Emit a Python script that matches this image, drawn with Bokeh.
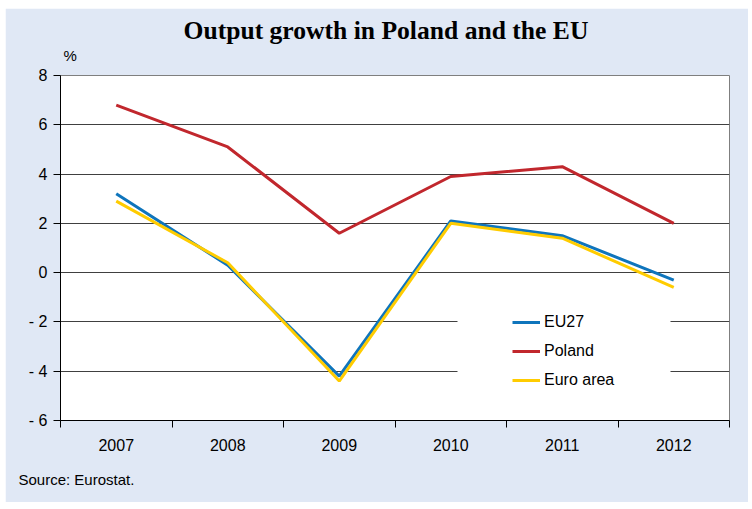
from bokeh.plotting import figure
from bokeh.models import (FixedTicker, Legend, LegendItem, BoxAnnotation,
                          ColumnDataSource, Title)
from bokeh.embed import file_html
from bokeh.resources import INLINE

years = ["2007", "2008", "2009", "2010", "2011", "2012"]
eu27 = [3.2, 0.3, -4.2, 2.1, 1.5, -0.3]
poland = [6.8, 5.1, 1.6, 3.9, 4.3, 2.0]
euro_area = [2.9, 0.4, -4.4, 2.0, 1.4, -0.6]
y_ticks = [-6, -4, -2, 0, 2, 4, 6, 8]

FONT = "Liberation Sans"
BG = "#E0E8F5"

W, H = 743, 494
p = figure(width=W, height=H, output_backend="svg", toolbar_location=None,
           x_range=(0, len(years)), y_range=(-6, 8),
           min_border_left=55, min_border_right=19, min_border_top=67,
           min_border_bottom=81)
p.margin = (8, 4, 7, 5)
p.background_fill_color = "white"
p.border_fill_color = BG
p.outline_line_color = "#7F7F7F"
p.outline_line_width = 1

xs = [i + 0.5 for i in range(len(years))]
src = ColumnDataSource(dict(x=xs, eu27=eu27, poland=poland, euro=euro_area))

# white box behind legend (interrupts gridlines)
p.add_layout(BoxAnnotation(left=397, right=610, bottom=25, top=112,
                           left_units="screen", right_units="screen",
                           bottom_units="screen", top_units="screen",
                           fill_color="white", fill_alpha=1, line_color=None,
                           level="underlay"))

r_eu = p.line("x", "eu27", source=src, line_color="#0F75BC", line_width=3)
r_pl = p.line("x", "poland", source=src, line_color="#C1272D", line_width=3)
r_ea = p.line("x", "euro", source=src, line_color="#FFCC00", line_width=3)

# x axis
p.xaxis.ticker = FixedTicker(ticks=xs, minor_ticks=list(range(len(years) + 1)))
p.xaxis.major_label_overrides = {x: y for x, y in zip(xs, years)}
p.xaxis.major_tick_line_color = None
p.xaxis.minor_tick_line_color = "black"
p.xaxis.minor_tick_out = 7
p.xaxis.minor_tick_in = 0
p.xaxis.axis_line_color = "black"
p.xaxis.major_label_text_font = FONT
p.xaxis.major_label_text_font_size = "16px"
p.xaxis.major_label_text_color = "black"
p.xaxis.major_label_standoff = 11

# y axis
p.yaxis.ticker = FixedTicker(ticks=y_ticks)
p.yaxis.major_label_overrides = {t: (("- " + str(-t)) if t < 0 else str(t)) for t in y_ticks}
p.yaxis.major_tick_out = 7
p.yaxis.major_tick_in = 0
p.yaxis.minor_tick_line_color = None
p.yaxis.axis_line_color = "black"
p.yaxis.major_tick_line_color = "black"
p.yaxis.major_label_text_font = FONT
p.yaxis.major_label_text_font_size = "16px"
p.yaxis.major_label_text_color = "black"
p.yaxis.major_label_standoff = 6

p.xgrid.grid_line_color = None
p.ygrid.ticker = FixedTicker(ticks=y_ticks)
p.ygrid.grid_line_color = "#404040"
p.ygrid.grid_line_width = 1

legend = Legend(items=[LegendItem(label="EU27", renderers=[r_eu]),
                       LegendItem(label="Poland", renderers=[r_pl]),
                       LegendItem(label="Euro area", renderers=[r_ea])],
                location=(452, 30), padding=0, margin=0, spacing=9,
                glyph_width=28, glyph_height=20, label_height=20,
                label_standoff=4, label_text_font=FONT,
                label_text_font_size="16px", label_text_color="black",
                background_fill_alpha=0, border_line_color=None)
p.add_layout(legend)

p.title.text = "Output growth in Poland and the EU"
p.title.text_font = "Liberation Serif"
p.title.text_font_style = "bold"
p.title.text_font_size = "25.6px"
p.title.text_color = "black"
p.title.align = "left"
p.title.offset = 123
p.title.standoff = -25

p.add_layout(Title(text="%", align="left", offset=3, text_font=FONT,
                   text_font_size="15px", text_font_style="normal",
                   text_color="black", standoff=24), "above")
p.add_layout(Title(text="Source: Eurostat.", align="left", offset=-42, text_font=FONT,
                   text_font_size="15px", text_font_style="normal",
                   text_color="black", standoff=30), "below")

open("out.html", "w").write(file_html(p, INLINE))
